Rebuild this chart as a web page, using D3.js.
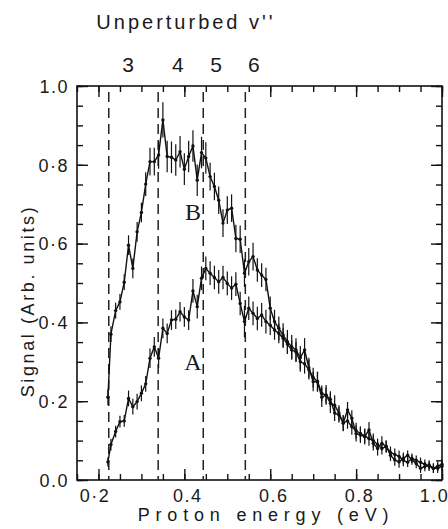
<!DOCTYPE html>
<html>
<head>
<meta charset="utf-8">
<title>Proton energy spectrum</title>
<style>
  body { margin: 0; background: #fff; }
  text { font-family: "Liberation Sans", Arial, sans-serif; fill: #1a1a1a; }
  .lbl { font-family: "Liberation Serif", "Times New Roman", serif; }
</style>
<script src="https://d3js.org/d3.v7.min.js"></script>
</head>
<body>
<svg></svg>
<script>
// energies (eV), shared by both curves
const energy = [0.222, 0.229, 0.24, 0.25, 0.26, 0.27, 0.28, 0.29, 0.30, 0.31,
  0.32, 0.33, 0.34, 0.35, 0.36, 0.37, 0.38, 0.39, 0.40, 0.41,
  0.42, 0.43, 0.44, 0.45, 0.46, 0.47, 0.48, 0.49, 0.50, 0.51,
  0.52, 0.53, 0.54, 0.55, 0.56, 0.57, 0.58, 0.59, 0.60, 0.61,
  0.62, 0.63, 0.64, 0.65, 0.66, 0.67, 0.68, 0.69, 0.70, 0.71,
  0.72, 0.73, 0.74, 0.75, 0.76, 0.77, 0.78, 0.79, 0.80, 0.81,
  0.82, 0.83, 0.84, 0.85, 0.86, 0.87, 0.88, 0.89, 0.90, 0.91,
  0.92, 0.93, 0.94, 0.95, 0.96, 0.97, 0.98, 0.99, 1.00];

const signalA = [0.046, 0.09, 0.123, 0.148, 0.150, 0.207, 0.186, 0.199, 0.22, 0.244,
  0.309, 0.338, 0.309, 0.385, 0.372, 0.406, 0.408, 0.427, 0.414, 0.406,
  0.48, 0.44, 0.512, 0.537, 0.525, 0.514, 0.503, 0.514, 0.499, 0.487,
  0.497, 0.448, 0.402, 0.436, 0.423, 0.41, 0.419, 0.402, 0.393, 0.381,
  0.372, 0.36, 0.345, 0.33, 0.325, 0.30, 0.295, 0.28, 0.26, 0.25,
  0.22, 0.215, 0.205, 0.17, 0.165, 0.145, 0.15, 0.135, 0.125, 0.118,
  0.112, 0.105, 0.10, 0.09, 0.08, 0.085, 0.07, 0.065, 0.06, 0.05,
  0.045, 0.055, 0.05, 0.045, 0.04, 0.035, 0.03, 0.03, 0.035];

const errA = [0.012, 0.015, 0.015, 0.015, 0.015, 0.02, 0.02, 0.02, 0.02, 0.02,
  0.025, 0.025, 0.025, 0.025, 0.025, 0.025, 0.025, 0.025, 0.025, 0.025,
  0.03, 0.03, 0.03, 0.03, 0.03, 0.03, 0.03, 0.03, 0.03, 0.03,
  0.03, 0.03, 0.04, 0.03, 0.03, 0.03, 0.03, 0.03, 0.025, 0.025,
  0.025, 0.025, 0.025, 0.025, 0.025, 0.025, 0.025, 0.025, 0.025, 0.025,
  0.02, 0.02, 0.02, 0.02, 0.02, 0.02, 0.02, 0.02, 0.02, 0.018,
  0.018, 0.018, 0.018, 0.015, 0.015, 0.015, 0.015, 0.015, 0.015, 0.015,
  0.012, 0.012, 0.012, 0.012, 0.012, 0.012, 0.012, 0.012, 0.012];

const signalB = [0.21, 0.37, 0.43, 0.452, 0.502, 0.596, 0.537, 0.63, 0.679, 0.751,
  0.808, 0.808, 0.825, 0.914, 0.821, 0.819, 0.812, 0.833, 0.789, 0.821,
  0.848, 0.761, 0.831, 0.817, 0.77, 0.745, 0.71, 0.652, 0.685, 0.69,
  0.613, 0.611, 0.525, 0.554, 0.567, 0.533, 0.52, 0.509, 0.436, 0.402,
  0.385, 0.368, 0.351, 0.338, 0.33, 0.31, 0.33, 0.285, 0.25, 0.249,
  0.21, 0.216, 0.195, 0.19, 0.17, 0.144, 0.178, 0.157, 0.118, 0.114,
  0.11, 0.127, 0.093, 0.08, 0.093, 0.085, 0.063, 0.051, 0.046, 0.055,
  0.063, 0.051, 0.042, 0.03, 0.034, 0.038, 0.03, 0.035, 0.04];

const errB = [0.02, 0.02, 0.02, 0.02, 0.02, 0.025, 0.025, 0.025, 0.025, 0.03,
  0.035, 0.035, 0.035, 0.045, 0.04, 0.04, 0.04, 0.04, 0.04, 0.04,
  0.04, 0.04, 0.04, 0.04, 0.035, 0.035, 0.035, 0.035, 0.035, 0.035,
  0.035, 0.035, 0.035, 0.035, 0.035, 0.03, 0.03, 0.03, 0.03, 0.03,
  0.03, 0.03, 0.03, 0.03, 0.03, 0.03, 0.03, 0.025, 0.025, 0.025,
  0.025, 0.025, 0.025, 0.025, 0.02, 0.02, 0.02, 0.02, 0.02, 0.02,
  0.02, 0.02, 0.018, 0.018, 0.018, 0.015, 0.015, 0.015, 0.015, 0.015,
  0.012, 0.012, 0.012, 0.012, 0.012, 0.012, 0.012, 0.012, 0.012];

// unperturbed v'' levels
const levelEnergy = [0.224, 0.339, 0.444, 0.542];
const levelLabelAt = [0.269, 0.385, 0.474, 0.562];
const levelNames = ["3", "4", "5", "6"];

const xMajor = [0.2, 0.4, 0.6, 0.8, 1.0];
const xTickLabels = ["0\u00b72", "0.4", "0.6", "0.8", "1.0"];
const yMajor = [0, 0.2, 0.4, 0.6, 0.8, 1.0];
const yTickLabels = ["0.0", "0\u00b72", "0\u00b74", "0\u00b76", "0\u00b78", "1.0"];

const width = 448, height = 529;
const m = { left: 77, right: 6, top: 86, bottom: 49 };

const svg = d3.select('svg').attr('width', width).attr('height', height);

const x = d3.scaleLinear().domain([0.15, 1.0]).range([m.left, width - m.right]);
const y = d3.scaleLinear().domain([0, 1.0]).range([height - m.bottom, m.top]);

const xMinor = d3.range(0.15, 1.0001, 0.05);
const yMinor = d3.range(0, 1.0001, 0.05);

// axes: ticks point inward on all four sides
function drawAxis(axis, transform, vals, size, fmt) {
  const g = svg.append('g').attr('transform', transform)
    .call(axis.tickValues(vals).tickSize(-size).tickFormat(fmt));
  g.select('.domain').remove();
  g.selectAll('line').attr('stroke', '#111').attr('stroke-width', 1.4);
  return g;
}
const none = () => '';
const atBottom = 'translate(0,' + y(0) + ')', atTop = 'translate(0,' + y(1) + ')';
const atLeft = 'translate(' + x(0.15) + ',0)', atRight = 'translate(' + x(1.0) + ',0)';

drawAxis(d3.axisBottom(x), atBottom, xMinor, 6, none);
drawAxis(d3.axisTop(x), atTop, xMinor, 6, none);
drawAxis(d3.axisTop(x), atTop, xMajor, 11, none);
drawAxis(d3.axisLeft(y), atLeft, yMinor, 6, none);
drawAxis(d3.axisRight(y), atRight, yMinor, 6, none);
drawAxis(d3.axisRight(y), atRight, yMajor, 11, none);

const xb = drawAxis(d3.axisBottom(x), atBottom, xMajor, 11, (d, i) => xTickLabels[i]);
xb.selectAll('text').attr('y', 9).attr('dy', '0.71em')
  .attr('dx', (d, i) => i === 0 ? -4 : (i === xMajor.length - 1 ? -8 : 3))
  .style('font-size', '18px').style('letter-spacing', '1.5px');
const yl = drawAxis(d3.axisLeft(y), atLeft, yMajor, 11, (d, i) => yTickLabels[i]);
yl.selectAll('text').attr('x', -8).attr('dy', '0.35em')
  .style('font-size', '18px').style('letter-spacing', '1.5px');

svg.append('rect')
  .attr('x', x(0.15)).attr('y', y(1))
  .attr('width', x(1.0) - x(0.15)).attr('height', y(0) - y(1))
  .attr('fill', 'none').attr('stroke', '#111').attr('stroke-width', 1.6);

// dashed level lines
svg.selectAll('.lvl').data(levelEnergy).enter().append('line')
  .attr('x1', d => x(d)).attr('x2', d => x(d))
  .attr('y1', y(0.985)).attr('y2', y(0))
  .attr('stroke', '#222').attr('stroke-width', 1.5)
  .attr('stroke-dasharray', '10,6');

svg.selectAll('.lvlname').data(levelNames).enter().append('text')
  .attr('x', (d, i) => x(levelLabelAt[i])).attr('y', 72)
  .attr('text-anchor', 'middle').style('font-size', '21px')
  .text(d => d);

svg.append('text').attr('x', 186).attr('y', 29).attr('text-anchor', 'middle')
  .style('font-size', '20px').style('letter-spacing', '3px')
  .text("Unperturbed  v''");

// curves with error bars
const series = [
  { v: signalA, e: errA },
  { v: signalB, e: errB }
];
const line = d3.line().x(d => x(d[0])).y(d => y(d[1]));

series.forEach(s => {
  const pts = energy.map((E, i) => [E, s.v[i], s.e[i]]);
  svg.append('path').datum(pts).attr('d', line)
    .attr('fill', 'none').attr('stroke', '#111').attr('stroke-width', 1.4);
  svg.append('g').selectAll('line').data(pts).enter().append('line')
    .attr('x1', d => x(d[0])).attr('x2', d => x(d[0]))
    .attr('y1', d => y(d[1] - d[2])).attr('y2', d => y(d[1] + d[2]))
    .attr('stroke', '#111').attr('stroke-width', 1.2);
  svg.append('g').selectAll('circle').data(pts).enter().append('circle')
    .attr('cx', d => x(d[0])).attr('cy', d => y(d[1])).attr('r', 1.7)
    .attr('fill', '#111');
});

svg.append('text').attr('class', 'lbl').attr('x', x(0.42)).attr('y', y(0.66))
  .attr('text-anchor', 'middle').style('font-size', '24px').text('B');
svg.append('text').attr('class', 'lbl').attr('x', x(0.42)).attr('y', y(0.279))
  .attr('text-anchor', 'middle').style('font-size', '24px').text('A');

// axis titles
svg.append('text').attr('x', 266).attr('y', 521).attr('text-anchor', 'middle')
  .style('font-size', '18px').style('letter-spacing', '5.8px')
  .text('Proton energy (eV)');
svg.append('text')
  .attr('transform', 'translate(34,' + 301 + ')rotate(-90)')
  .attr('text-anchor', 'middle')
  .style('font-size', '18px').style('letter-spacing', '2.6px')
  .text('Signal (Arb. units)');
</script>
</body>
</html>
